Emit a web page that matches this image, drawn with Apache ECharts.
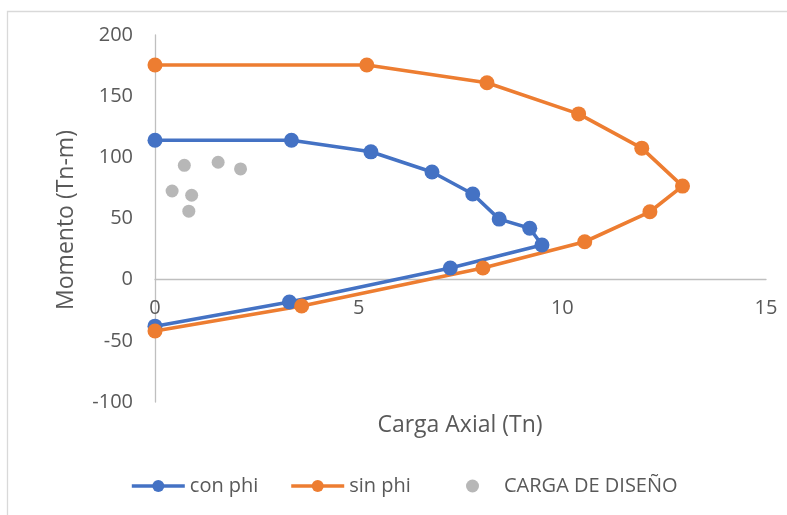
<!DOCTYPE html>
<html><head><meta charset="utf-8">
<script src="https://cdn.jsdelivr.net/npm/echarts@6/dist/echarts.min.js"></script>
<style>html,body{margin:0;padding:0;background:#fff}#c{width:787px;height:515px}</style>
</head><body><div id="c"></div>
<script>
const conPhiX = [0, 3.35, 5.3, 6.8, 7.8, 8.45, 9.2, 9.5, 7.25, 3.3, 0];
const conPhiY = [114, 114, 104.5, 88, 70, 49.5, 42, 28.3, 9.5, -18.3, -38];
const sinPhiX = [0, 5.2, 8.15, 10.4, 11.95, 12.95, 12.15, 10.55, 8.05, 3.6, 0];
const sinPhiY = [175.5, 175.5, 161, 135.5, 107.5, 76.5, 55.5, 31, 9.5, -21.5, -42];
const cargaX = [0.72, 1.55, 2.1, 0.42, 0.9, 0.83];
const cargaY = [93.5, 96, 90.5, 72.5, 69, 56];
const seriesNames = ['con phi', 'sin phi', 'CARGA DE DISEÑO'];
const xTitle = 'Carga Axial (Tn)';
const yTitle = 'Momento (Tn-m)';

const zip = (a, b) => a.map((v, i) => [v, b[i]]);
const FONT = '"Open Sans", sans-serif';
const TXT = '#595959';
const GRID_H = 367, Y_MIN = -100, Y_MAX = 200;
const zeroOffset = -GRID_H * (0 - Y_MIN) / (Y_MAX - Y_MIN);
const legendText = { color: TXT, fontSize: 20, fontFamily: FONT };

const chart = echarts.init(document.getElementById('c'));
chart.setOption({
  animation: false,
  backgroundColor: '#fff',
  grid: { left: 155, right: 21, top: 35, height: GRID_H, containLabel: false },
  xAxis: {
    type: 'value', min: 0, max: 15, interval: 5, offset: zeroOffset,
    axisLine: { show: true, onZero: false, lineStyle: { color: '#BFBFBF', width: 1.3 } },
    axisTick: { show: false },
    splitLine: { show: false },
    axisLabel: { color: TXT, fontSize: 20, fontFamily: FONT, margin: 19 }
  },
  yAxis: {
    type: 'value', min: Y_MIN, max: Y_MAX, interval: 50,
    axisLine: { show: true, lineStyle: { color: '#BFBFBF', width: 1.3 } },
    axisTick: { show: false },
    splitLine: { show: false },
    axisLabel: { color: TXT, fontSize: 20, fontFamily: FONT, margin: 22 }
  },
  legend: [
    { left: 130, top: 476, itemWidth: 53, itemHeight: 15, itemGap: 31, padding: 0,
      lineStyle: { width: 3.6 }, textStyle: legendText, data: seriesNames.slice(0, 2) },
    { left: 466, top: 476, itemWidth: 53, itemHeight: 13, padding: 0,
      textStyle: legendText, data: seriesNames.slice(2) }
  ],
  graphic: [
    { type: 'rect', silent: true, z: -1, shape: { x: 7.5, y: 11.5, width: 820, height: 540 },
      style: { fill: 'none', stroke: '#D9D9D9', lineWidth: 1.3 } },
    { type: 'text', x: 460, y: 425, style: { text: xTitle, fill: TXT, fontSize: 23, fontFamily: FONT, align: 'center', verticalAlign: 'middle' } },
    { type: 'text', x: 66, y: 220, rotation: Math.PI / 2, style: { text: yTitle, fill: TXT, fontSize: 23, fontFamily: FONT, align: 'center', verticalAlign: 'middle' } }
  ],
  series: [
    { name: seriesNames[0], type: 'line', data: zip(conPhiX, conPhiY), symbol: 'circle', symbolSize: 15,
      lineStyle: { color: '#4472C4', width: 3.6 }, itemStyle: { color: '#4472C4' } },
    { name: seriesNames[1], type: 'line', data: zip(sinPhiX, sinPhiY), symbol: 'circle', symbolSize: 15,
      lineStyle: { color: '#ED7D31', width: 3.6 }, itemStyle: { color: '#ED7D31' } },
    { name: seriesNames[2], type: 'scatter', data: zip(cargaX, cargaY), symbol: 'circle', symbolSize: 13,
      itemStyle: { color: '#A5A5A5' } }
  ]
});
</script></body></html>
